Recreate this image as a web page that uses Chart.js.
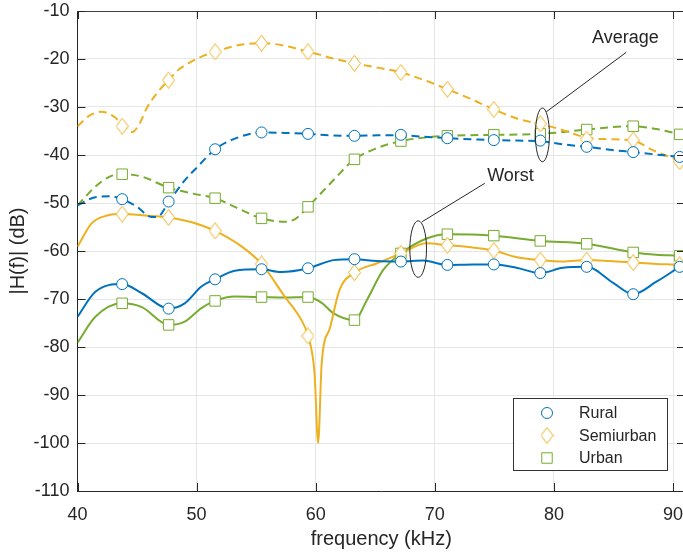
<!DOCTYPE html>
<html>
<head>
<meta charset="utf-8">
<script src="https://cdn.jsdelivr.net/npm/chart.js@4.4.1/dist/chart.umd.min.js"></script>
<style>
  html, body { margin: 0; padding: 0; overflow: hidden; background: #fff; }
  #wrap { width: 686px; height: 555px; }
</style>
</head>
<body>
<div id="wrap"><canvas id="h-chart" width="686" height="555"></canvas></div>
<script>
// marker frequencies (kHz)
const markerFreq = [43.75, 47.65, 51.55, 55.45, 59.35, 63.25, 67.15, 71.05, 74.95, 78.85, 82.75, 86.65, 90.55];

// marker values (dB)
const ruralAvgMk   = [-49.2, -49.7, -38.8, -35.3, -35.6, -36.0, -35.8, -36.5, -36.9, -37.0, -38.3, -39.4, -40.4];
const ruralWorstMk = [-66.9, -72.0, -65.9, -63.8, -63.6, -61.7, -62.2, -62.9, -62.8, -64.6, -63.3, -69.0, -63.3];
const semiAvgMk    = [-34.0, -24.4, -18.5, -16.7, -18.5, -20.9, -22.8, -26.3, -30.5, -33.5, -36.7, -36.9, -41.4];
const semiWorstMk  = [-52.3, -53.0, -55.8, -62.7, -77.7, -64.5, -60.5, -58.8, -59.9, -61.9, -61.9, -62.4, -62.9];
const urbanAvgMk   = [-44.0, -46.8, -49.0, -53.2, -50.8, -40.9, -37.1, -36.0, -35.8, -35.6, -34.7, -34.0, -35.7];
const urbanWorstMk = [-70.9, -75.4, -70.4, -69.6, -69.6, -74.4, -60.5, -56.5, -56.8, -57.9, -58.5, -60.3, -61.0];

// smooth curves
const ruralAvgF  = [40, 41.5, 42.7, 43.75, 45.0, 46.2, 46.7, 47.65, 49.0, 50.1, 51.55, 53.0, 55.45, 57.5, 59.35, 61.3, 63.25, 65.2, 67.15, 69.1, 71.05, 73.0, 74.95, 76.9, 78.85, 80.8, 82.75, 84.7, 86.65, 88.6, 90.55, 91];
const ruralAvgDb = [-50.5, -48.8, -48.6, -49.2, -50.8, -52.9, -52.9, -49.8, -45.3, -42.4, -38.8, -36.8, -35.3, -35.4, -35.6, -35.9, -36.0, -35.9, -35.9, -36.2, -36.5, -36.7, -36.9, -37.0, -37.1, -37.8, -38.3, -38.9, -39.4, -39.9, -40.4, -40.5];

const semiAvgF  = [40, 41.0, 42.0, 43.0, 43.75, 44.6, 45.2, 45.8, 46.7, 47.65, 48.5, 49.3, 50.5, 51.55, 52.7, 53.8, 55.45, 56.6, 57.7, 59.35, 60.2, 61.3, 63.25, 65.2, 67.15, 69.1, 71.05, 73.0, 74.95, 76.9, 78.85, 80.2, 81.9, 82.75, 84.4, 86.65, 88.3, 90.55, 91];
const semiAvgDb = [-34.0, -31.8, -31.0, -31.9, -33.5, -35.2, -33.5, -30.3, -27.0, -24.4, -22.2, -20.9, -19.4, -18.5, -17.6, -17.0, -16.7, -16.9, -17.4, -18.5, -19.0, -19.8, -20.9, -21.8, -22.8, -24.4, -26.3, -28.3, -30.5, -32.4, -33.6, -34.4, -35.8, -36.4, -36.7, -37.0, -39.0, -41.3, -41.9];

const urbanAvgF  = [40, 41.5, 42.7, 43.75, 45.4, 47.65, 49.6, 51.55, 53.2, 55.45, 57.4, 58.3, 59.35, 61.5, 63.25, 65.1, 67.15, 69.8, 71.05, 74.95, 78.85, 80.8, 82.75, 86.65, 88.6, 90.55, 91];
const urbanAvgDb = [-50.5, -46.6, -44.5, -44.0, -44.5, -46.8, -48.0, -49.0, -50.8, -53.2, -53.9, -53.3, -50.8, -45.2, -40.9, -38.6, -37.1, -36.2, -36.0, -35.8, -35.6, -35.2, -34.7, -34.0, -34.6, -35.7, -36.0];

const ruralWorstF  = [40, 41.5, 43.75, 45.4, 47.65, 49.0, 50.4, 51.55, 53.2, 55.45, 57.1, 59.35, 61.5, 63.25, 65.1, 67.15, 69.0, 71.05, 73.2, 74.95, 76.85, 78.85, 80.75, 82.75, 85.0, 86.65, 88.6, 90.55, 91];
const ruralWorstDb = [-73.7, -68.5, -66.9, -68.8, -72.0, -70.9, -67.4, -65.9, -64.1, -63.8, -64.4, -63.6, -61.9, -61.7, -62.1, -62.2, -62.0, -62.9, -62.8, -62.8, -63.5, -64.6, -63.5, -63.3, -66.7, -69.0, -66.4, -63.3, -62.6];

const semiWorstF  = [40, 41.2, 42.5, 43.75, 45.7, 47.65, 49.6, 51.55, 53.8, 55.45, 57.4, 58.8, 59.35, 59.9, 60.2, 60.5, 61.2, 62.0, 63.25, 65.1, 67.15, 69.3, 71.05, 72.65, 74.95, 76.9, 78.85, 80.75, 82.75, 84.7, 86.65, 88.6, 90.55, 91];
const semiWorstDb = [-59.1, -54.2, -52.6, -52.3, -52.6, -53.0, -54.0, -55.8, -59.1, -62.7, -69.5, -74.4, -77.7, -85.5, -100, -83.4, -76.0, -68.1, -64.5, -62.6, -60.5, -58.4, -58.8, -59.1, -59.9, -61.3, -61.9, -62.2, -61.9, -62.1, -62.4, -62.7, -62.9, -63.0];

const urbanWorstF  = [40, 41.5, 43.75, 45.4, 47.65, 49.0, 50.4, 51.55, 53.2, 55.45, 57.4, 59.35, 60.5, 61.5, 63.25, 64.3, 65.65, 67.15, 69.3, 71.05, 74.95, 78.85, 82.75, 86.65, 88.6, 90.55, 91];
const urbanWorstDb = [-79.1, -73.7, -70.9, -71.7, -75.4, -74.7, -71.9, -70.4, -69.5, -69.6, -69.7, -69.6, -70.8, -73.0, -74.4, -70.2, -64.0, -60.5, -57.4, -56.5, -56.8, -57.9, -58.5, -60.3, -60.8, -61.0, -61.1];

const BLUE = "#0072BD", ORANGE = "#EDB120", GREEN = "#77AC30";

function pts(xs, ys) { return xs.map((x, i) => ({x: x, y: ys[i]})); }

// taller-than-wide diamond like matlab's 'd' marker
function diamondIcon(color) {
    const c = document.createElement("canvas");
    c.width = 13; c.height = 17;
    const g = c.getContext("2d");
    g.beginPath();
    g.moveTo(6.5, 0.5); g.lineTo(12.5, 8.5); g.lineTo(6.5, 16.5); g.lineTo(0.5, 8.5);
    g.closePath();
    g.fillStyle = "#fff"; g.fill();
    g.strokeStyle = color; g.lineWidth = 1; g.stroke();
    return c;
}

function curve(label, xs, ys, color, dashed) {
    return {
        label: label, data: pts(xs, ys),
        borderColor: color, borderWidth: 2, borderDash: dashed ? [8, 5] : [],
        pointRadius: 0, fill: false, cubicInterpolationMode: "monotone"
    };
}
function marks(label, avg, worst, color, style, r) {
    return {
        label: label, data: pts(markerFreq, avg).concat(pts(markerFreq, worst)),
        showLine: false, borderColor: color, backgroundColor: "#fff",
        pointStyle: style, pointRadius: r, pointBorderWidth: 1, pointHoverRadius: r
    };
}

const markerSets = [
    marks("Rural", ruralAvgMk, ruralWorstMk, BLUE, "circle", 5.5),
    marks("Semiurban", semiAvgMk, semiWorstMk, ORANGE, diamondIcon(ORANGE), 6.5),
    marks("Urban", urbanAvgMk, urbanWorstMk, GREEN, "rect", 7.4)
];

const notes = [
    {text: "Average", cx: 79.03, cy: -35.8, rx: 0.59, ry: 5.6, l: [79.36, -31.0, 86.07, -18.6], tx: 86.0, ty: -15.7},
    {text: "Worst", cx: 68.6, cy: -59.6, rx: 0.70, ry: 5.9, l: [68.93, -53.9, 74.19, -45.9], tx: 76.35, ty: -44.3}
];

const decor = {
    id: "decor",
    afterDraw(chart) {
        const ctx = chart.ctx, a = chart.chartArea;
        const xs = chart.scales.x, ys = chart.scales.y;
        ctx.save();
        // top box line
        ctx.strokeStyle = "#404040"; ctx.lineWidth = 1;
        ctx.beginPath(); ctx.moveTo(a.left, a.top + 0.5); ctx.lineTo(a.right, a.top + 0.5); ctx.stroke();
        // inward ticks
        ctx.strokeStyle = "#262626";
        ctx.beginPath();
        xs.ticks.forEach(t => {
            const px = Math.round(xs.getPixelForValue(t.value)) + 0.5;
            ctx.moveTo(px, a.bottom); ctx.lineTo(px, a.bottom - 8);
            ctx.moveTo(px, a.top); ctx.lineTo(px, a.top + 8);
        });
        ys.ticks.forEach(t => {
            const py = Math.round(ys.getPixelForValue(t.value)) + 0.5;
            ctx.moveTo(a.left, py); ctx.lineTo(a.left + 8, py);
            ctx.moveTo(a.right, py); ctx.lineTo(a.right - 8, py);
        });
        ctx.stroke();

        // ellipses + callouts
        ctx.strokeStyle = "#262626"; ctx.fillStyle = "#262626";
        ctx.font = "18px 'Liberation Sans', Arial, sans-serif";
        ctx.textAlign = "center"; ctx.textBaseline = "middle";
        notes.forEach(n => {
            const cx = xs.getPixelForValue(n.cx), cy = ys.getPixelForValue(n.cy);
            const rx = xs.getPixelForValue(n.cx + n.rx) - cx;
            const ry = cy - ys.getPixelForValue(n.cy + n.ry);
            ctx.beginPath(); ctx.ellipse(cx, cy, rx, ry, 0, 0, Math.PI * 2); ctx.stroke();
            ctx.beginPath();
            ctx.moveTo(xs.getPixelForValue(n.l[0]), ys.getPixelForValue(n.l[1]));
            ctx.lineTo(xs.getPixelForValue(n.l[2]), ys.getPixelForValue(n.l[3]));
            ctx.stroke();
            ctx.fillText(n.text, xs.getPixelForValue(n.tx), ys.getPixelForValue(n.ty));
        });

        // legend box, lower right
        const bw = 154, bh = 72;
        const bx = a.right - 18 - bw, by = a.bottom - 21 - bh;
        ctx.fillStyle = "#fff";
        ctx.fillRect(bx, by, bw, bh);
        ctx.strokeStyle = "#333";
        ctx.strokeRect(Math.round(bx) + 0.5, Math.round(by) + 0.5, bw, bh);
        ctx.font = "16px 'Liberation Sans', Arial, sans-serif";
        ctx.textAlign = "left";
        markerSets.forEach((ds, i) => {
            const yy = by + 15 + i * 22.5;
            ctx.strokeStyle = ds.borderColor; ctx.fillStyle = "#fff"; ctx.lineWidth = 1;
            Chart.helpers.drawPoint(ctx, {pointStyle: ds.pointStyle, radius: ds.pointRadius, borderWidth: 1, rotation: 0}, bx + 34, yy);
            ctx.fillStyle = "#262626";
            ctx.fillText(ds.label, bx + 66, yy + 1);
        });
        ctx.restore();
    }
};

const tickFont = {family: "'Liberation Sans', Arial, sans-serif", size: 18};
const titleFont = {family: "'Liberation Sans', Arial, sans-serif", size: 20};

// keep chart area fixed: no extra room for overhanging tick labels
function noPad(s) { s.paddingTop = 0; s.paddingBottom = 0; s.paddingLeft = 0; s.paddingRight = 0; }

const h_chart = new Chart(document.getElementById("h-chart"), {
    type: "line",
    data: {
        datasets: markerSets.concat([
            curve("Rural avg", ruralAvgF, ruralAvgDb, BLUE, true),
            curve("Semiurban avg", semiAvgF, semiAvgDb, ORANGE, true),
            curve("Urban avg", urbanAvgF, urbanAvgDb, GREEN, true),
            curve("Rural worst", ruralWorstF, ruralWorstDb, BLUE, false),
            curve("Semiurban worst", semiWorstF, semiWorstDb, ORANGE, false),
            curve("Urban worst", urbanWorstF, urbanWorstDb, GREEN, false)
        ])
    },
    options: {
        responsive: false,
        animation: false,
        layout: {autoPadding: false, padding: {top: 11, right: 1, left: 0, bottom: 0}},
        plugins: {legend: {display: false}, tooltip: {enabled: false}},
        scales: {
            x: {
                type: "linear", min: 40, max: 91,
                afterFit: s => { s.height = 64; noPad(s); },
                ticks: {stepSize: 10, includeBounds: false, color: "#262626", font: tickFont, padding: 13, maxRotation: 0},
                grid: {color: "#e6e6e6", drawTicks: false},
                border: {color: "#262626", width: 1},
                title: {display: true, text: "frequency (kHz)", color: "#262626", font: titleFont, padding: {top: 0, bottom: 4}}
            },
            y: {
                min: -110, max: -10,
                afterFit: s => { s.width = 77.5; noPad(s); },
                ticks: {stepSize: 10, color: "#262626", font: tickFont, padding: 8},
                grid: {color: "#e6e6e6", drawTicks: false},
                border: {color: "#262626", width: 1},
                title: {display: true, text: "|H(f)| (dB)", color: "#262626", font: titleFont, padding: {top: 6, bottom: 0}}
            }
        }
    },
    plugins: [decor]
});
</script>
</body>
</html>
